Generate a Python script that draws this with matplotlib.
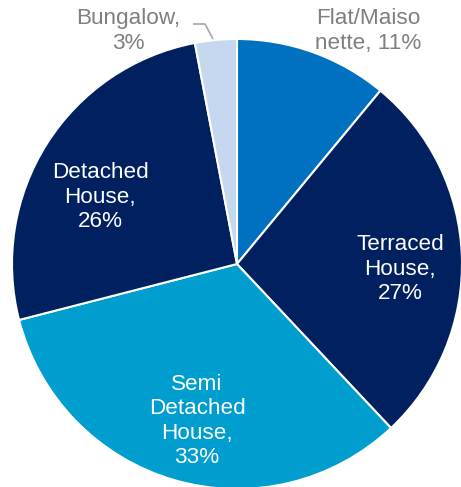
import matplotlib
matplotlib.use("Agg")
import matplotlib.pyplot as plt

# Housing stock by property type (share of total, %)
categories = ["Flat/Maiso\nnette", "Terraced\nHouse", "Semi\nDetached\nHouse", "Detached\nHouse", "Bungalow"]
shares = [11, 27, 33, 26, 3]
colors = ["#0070C0", "#002060", "#009DCF", "#002060", "#C5D8F0"]

W, H = 461, 487
fig = plt.figure(figsize=(W / 100, H / 100), dpi=100)
ax = fig.add_axes([0, 0, 1, 1])

cx, cy, r = 237, H - 264, 225
ax.pie(
    shares, colors=colors, startangle=90, counterclock=False,
    center=(cx, cy), radius=r, frame=True,
    wedgeprops=dict(edgecolor="white", linewidth=1.5),
)
ax.set_xlim(0, W)
ax.set_ylim(0, H)
ax.set_aspect("equal")
ax.axis("off")

font = dict(family=["Liberation Sans", "DejaVu Sans"], fontsize=16.2,
            ha="center", va="center", linespacing=1.2)

# label anchor points (pixel coordinates, y measured from the top), colour,
# and whether the percentage sits on its own line
label_pos = {
    "Flat/Maiso\nnette": (368, 31, "#7F7F7F", False),
    "Terraced\nHouse": (400, 269, "white", True),
    "Semi\nDetached\nHouse": (197, 421, "white", True),
    "Detached\nHouse": (100, 197, "white", True),
    "Bungalow": (128, 31, "#7F7F7F", True),
}
for name, val in zip(categories, shares):
    x, y, c, own_line = label_pos[name]
    sep = ",\n" if own_line else ", "
    ax.text(x, H - y, f"{name}{sep}{val}%", color=c, **font)

# leader line for the small Bungalow slice
ax.plot([193, 205, 213], [H - 24, H - 24, H - 39], color="#A6A6A6", lw=1.2,
        solid_capstyle="butt")

fig.savefig("out.png", dpi=100)
